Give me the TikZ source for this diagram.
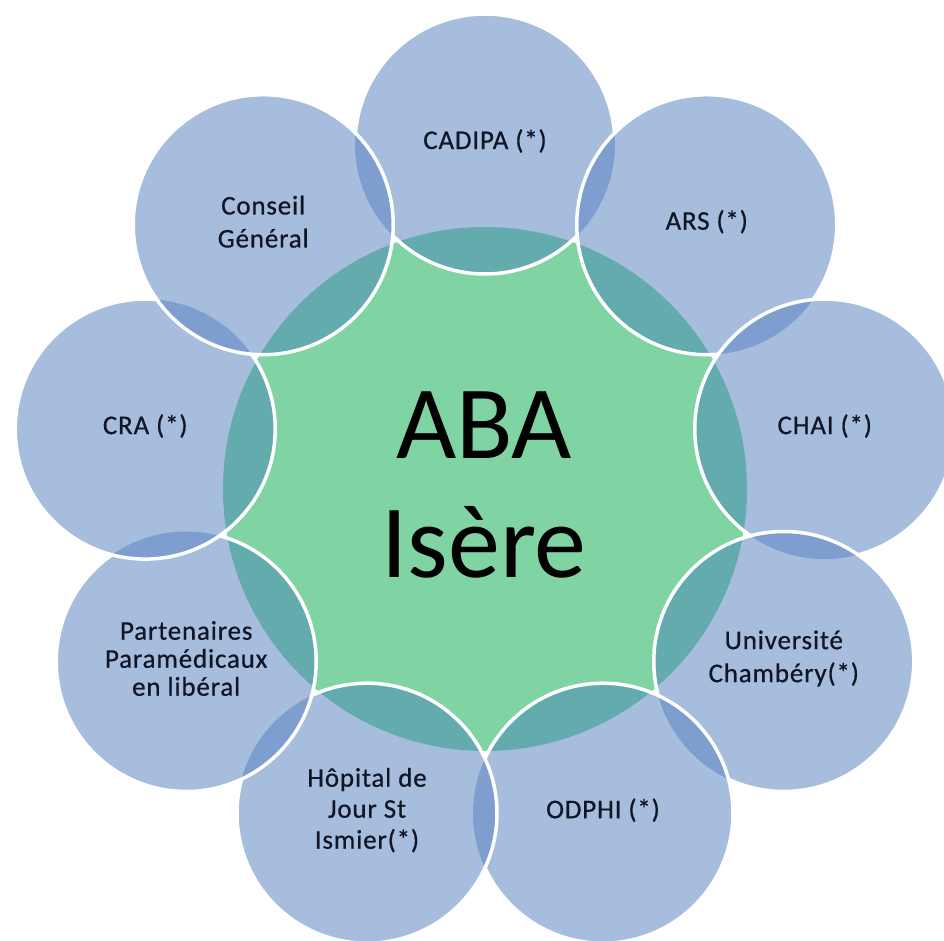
\documentclass[tikz,border=0pt]{standalone}
\usepackage{fontspec}
\setmainfont{Carlito}
\newfontfamily\ringfont[LetterSpace=3,FakeBold=0.6]{Carlito}
\definecolor{ringblue}{RGB}{167,189,221}
\definecolor{lensblue}{RGB}{126,158,208}
\definecolor{tealmix}{RGB}{100,171,174}
\definecolor{coregreen}{RGB}{128,212,163}
\definecolor{labelink}{RGB}{16,22,38}
\tikzset{
  ringedge/.style={circle,draw=white,line width=3.5pt,minimum size=260pt,inner sep=0pt},
  ringtext/.style={align=center,text=labelink,font=\ringfont\fontsize{27}{33}\selectfont},
  corelabel/.style={align=center,text=black,font=\fontsize{104}{119}\selectfont}
}
\begin{document}
\begin{tikzpicture}[x=1pt,y=1pt]
\pgfmathsetmacro{\rad}{345}
\pgfmathsetmacro{\rs}{130}
\pgfmathsetmacro{\rc}{262}
\useasboundingbox (-485,-451) rectangle (459,489);
\clip (-485,-451) rectangle (459,489);
\fill[coregreen] (0,0) circle (\rc);
\foreach \k/\name/\txt in {1/cadipa/{CADIPA (*)},2/ars/{ARS (*)},3/chai/{CHAI (*)},
  4/univ/{Université\\Chambéry(*)},5/odphi/{ODPHI (*)},6/hopital/{Hôpital de\\[-2pt]Jour St\\[-2pt]Ismier(*)},
  7/partenaires/{Partenaires\\[-5pt]Paramédicaux\\[-5pt]en libéral},8/cra/{CRA (*)},9/conseil/{Conseil\\Général}}{
  \pgfmathsetmacro{\ang}{130-40*\k}
  \fill[ringblue] (\ang:\rad) circle (\rs);
  \begin{scope}
    \clip (\ang:\rad) circle (\rs);
    \fill[tealmix] (0,0) circle (\rc);
    \fill[lensblue] (\ang+40:\rad) circle (\rs) (\ang-40:\rad) circle (\rs);
  \end{scope}
  \node[ringedge] (\name) at (\ang:\rad) {};
  \node[ringtext] (\name-txt) at ([yshift=3]\name.center) {\txt};
}
\node[corelabel] (aba) at (-1,4) {ABA\\Isère};
\end{tikzpicture}
\end{document}
